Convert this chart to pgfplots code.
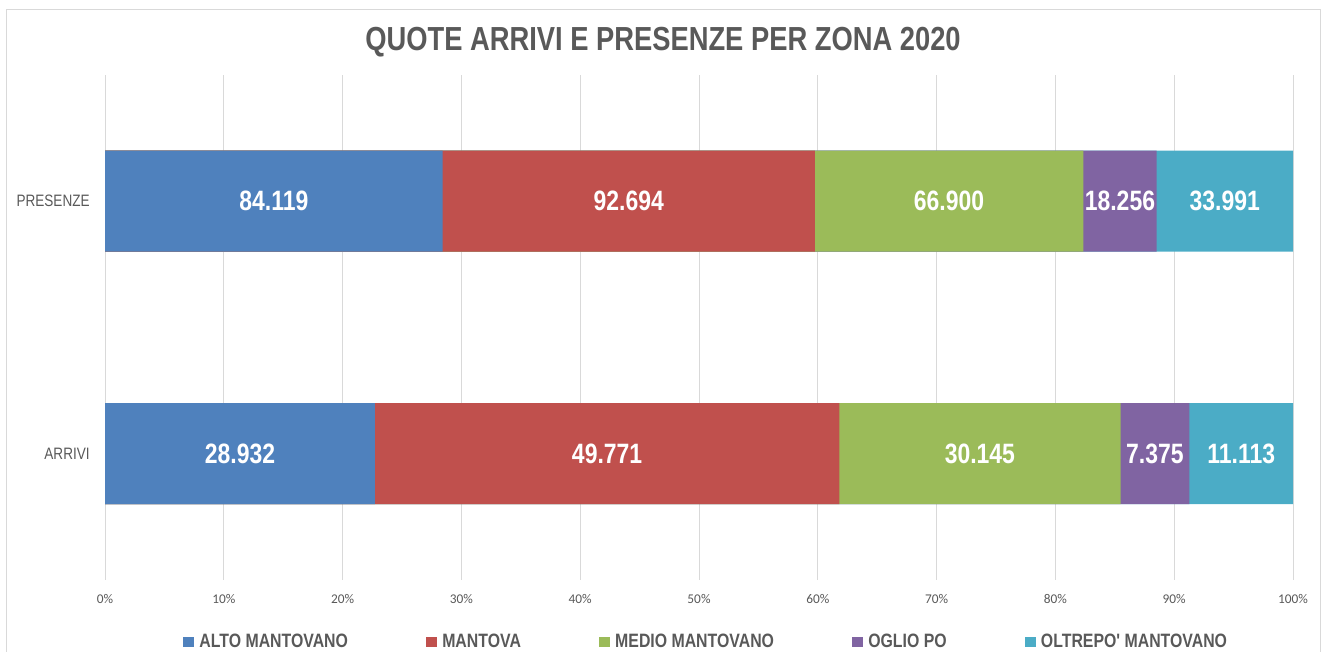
\documentclass[border=0pt]{standalone}
\usepackage{fontspec}
\usepackage{pgfplots}
\pgfplotsset{compat=1.18}
\usepackage{pgfplotstable}
\setmainfont{Liberation Sans}[FakeStretch=0.82]
\newfontfamily\narrow{Liberation Sans}[FakeStretch=0.82]
\newfontfamily\calib{Carlito}
\definecolor{cA}{HTML}{4F81BD}
\definecolor{cB}{HTML}{C0504D}
\definecolor{cC}{HTML}{9BBB59}
\definecolor{cD}{HTML}{8064A2}
\definecolor{cE}{HTML}{4BACC6}
\definecolor{txt}{HTML}{595959}
\definecolor{gridc}{HTML}{D9D9D9}

\pgfplotstableread{
pos a b c d e
1 28932 49771 30145 7375 11113
2 84119 92694 66900 18256 33991
}\data
\newcommand\tot{(\thisrow{a}+\thisrow{b}+\thisrow{c}+\thisrow{d}+\thisrow{e})}

\begin{document}
\begin{tikzpicture}
\useasboundingbox (0,0) rectangle (994.5pt,489pt);
\draw[gridc, line width=0.75pt] (4.5pt,-2pt) -- (4.5pt,481.5pt) -- (990pt,481.5pt) -- (990pt,-2pt);
\node[anchor=base, text=txt, font=\bfseries\fontsize{25}{29}\selectfont] at (497.25pt,450.75pt) {QUOTE ARRIVI E PRESENZE PER ZONA 2020};
\begin{axis}[
  at={(78.75pt,54pt)}, anchor=south west,
  scale only axis, width=891pt, height=378.75pt,
  xmin=0, xmax=100, ymin=0.5, ymax=2.5,
  xtick={0,10,...,100},
  xticklabels={0\%,10\%,20\%,30\%,40\%,50\%,60\%,70\%,80\%,90\%,100\%},
  ytick={1,2}, yticklabels={ARRIVI,PRESENZE},
  xmajorgrids, grid style={draw=gridc, line width=0.75pt},
  axis line style={draw=none}, major tick length=0pt,
  xticklabel style={font=\calib\fontsize{10}{12}\selectfont, text=txt, yshift=-7pt},
  yticklabel style={font=\fontsize{12.4}{14}\selectfont, text=txt, xshift=-8pt},
  legend columns=5,
  legend image code/.code={\fill[#1, draw=none] (0pt,-4.1pt) rectangle (8.2pt,4.1pt);},
  legend style={draw=none, fill=none, at={(0.506,-0.1228)}, anchor=center,
    font=\narrow\bfseries\fontsize{14.5}{17}\selectfont, text=txt,
    nodes={inner sep=1.5pt},
    /tikz/every odd column/.append style={column sep=2.5pt},
    /tikz/every even column/.append style={column sep=57pt}},
  legend cell align=left,
  every node near coord/.append style={anchor=center, text=white, font=\bfseries\fontsize{21}{24}\selectfont},
]
\addlegendimage{fill=cA, draw=none}\addlegendentry{ALTO MANTOVANO}
\addlegendimage{fill=cB, draw=none}\addlegendentry{MANTOVA}
\addlegendimage{fill=cC, draw=none}\addlegendentry{MEDIO MANTOVANO}
\addlegendimage{fill=cD, draw=none}\addlegendentry{OGLIO PO}
\addlegendimage{fill=cE, draw=none}\addlegendentry{OLTREPO' MANTOVANO}

\addplot[xbar, bar width=75.75pt, bar shift=0pt, fill=cE, draw=none, forget plot]
  table[y=pos, x expr={(\thisrow{a}+\thisrow{b}+\thisrow{c}+\thisrow{d}+\thisrow{e})/\tot*100}] {\data};
\addplot[xbar, bar width=75.75pt, bar shift=0pt, fill=cD, draw=none, forget plot]
  table[y=pos, x expr={(\thisrow{a}+\thisrow{b}+\thisrow{c}+\thisrow{d})/\tot*100}] {\data};
\addplot[xbar, bar width=75.75pt, bar shift=0pt, fill=cC, draw=none, forget plot]
  table[y=pos, x expr={(\thisrow{a}+\thisrow{b}+\thisrow{c})/\tot*100}] {\data};
\addplot[xbar, bar width=75.75pt, bar shift=0pt, fill=cB, draw=none, forget plot]
  table[y=pos, x expr={(\thisrow{a}+\thisrow{b})/\tot*100}] {\data};
\addplot[xbar, bar width=75.75pt, bar shift=0pt, fill=cA, draw=none, forget plot]
  table[y=pos, x expr={\thisrow{a}/\tot*100}] {\data};

\pgfplotsset{lbl/.style={draw=none, mark=none, forget plot, nodes near coords={\pgfmathprintnumber[fixed,precision=0,1000 sep={.},assume math mode=true]{\pgfplotspointmeta}}, point meta=explicit}}
\addplot[lbl] table[y=pos, meta=a, x expr={(\thisrow{a}/2)/\tot*100}] {\data};
\addplot[lbl] table[y=pos, meta=b, x expr={(\thisrow{a}+\thisrow{b}/2)/\tot*100}] {\data};
\addplot[lbl] table[y=pos, meta=c, x expr={(\thisrow{a}+\thisrow{b}+\thisrow{c}/2)/\tot*100}] {\data};
\addplot[lbl] table[y=pos, meta=d, x expr={(\thisrow{a}+\thisrow{b}+\thisrow{c}+\thisrow{d}/2)/\tot*100}] {\data};
\addplot[lbl] table[y=pos, meta=e, x expr={(\thisrow{a}+\thisrow{b}+\thisrow{c}+\thisrow{d}+\thisrow{e}/2)/\tot*100}] {\data};
\end{axis}
\end{tikzpicture}
\end{document}
